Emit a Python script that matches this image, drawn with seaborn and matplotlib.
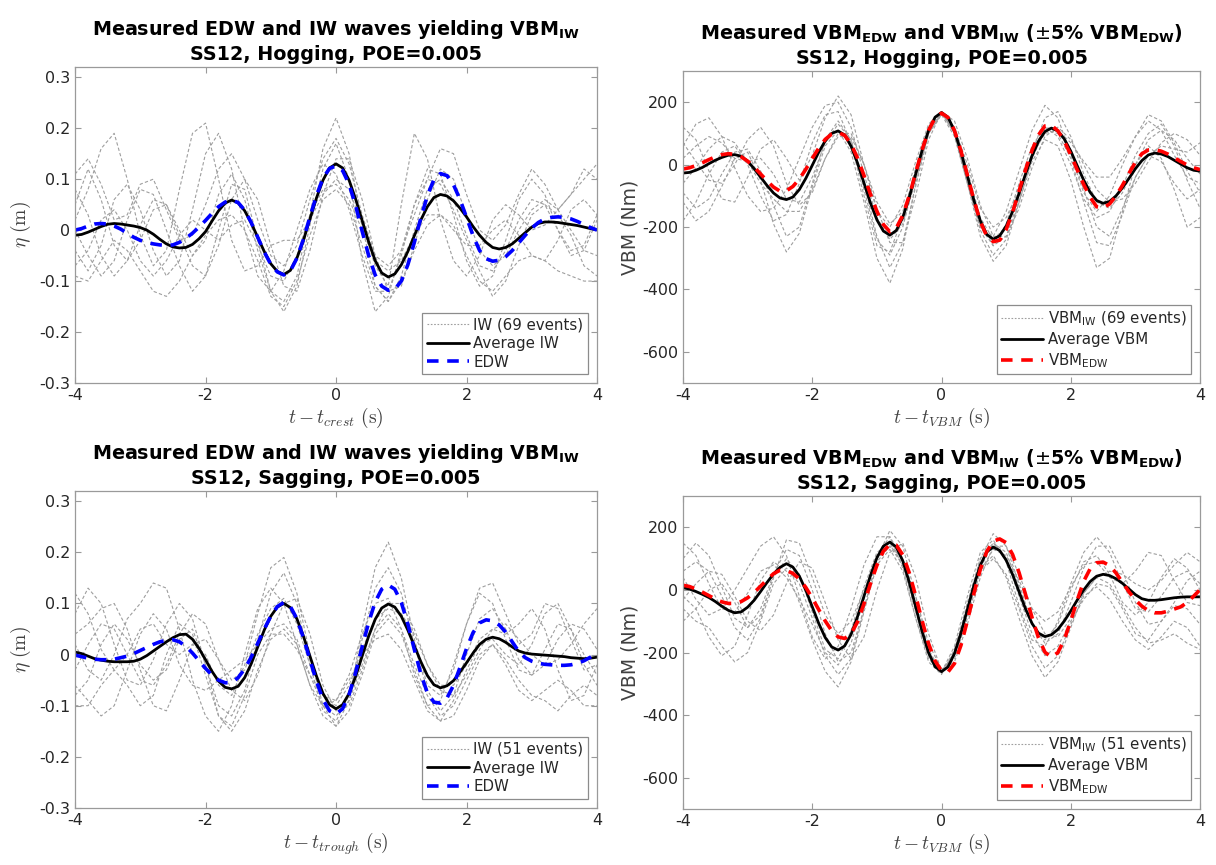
import numpy as np
import pandas as pd
import matplotlib
matplotlib.use("Agg")
import matplotlib.pyplot as plt
from matplotlib.lines import Line2D
from matplotlib.ticker import FuncFormatter
import seaborn as sns

# --- time bases (s) ---
t_fine = np.round(np.arange(-4.0, 4.0001, 0.1), 1)    # average / design curves
t_event = np.round(np.arange(-4.0, 4.0001, 0.2), 1)   # individual events

# --- hogging, wave elevation (m) ---
hog_avg_iw = [-0.010, -0.0085, -0.004, 0.0015, 0.007, 0.0115, 0.013, 0.012, 0.010, 0.008,
              0.005, 0.000, -0.008, -0.018, -0.027, -0.033, -0.035, -0.034, -0.028, -0.017,
              -0.003, 0.018, 0.038, 0.053, 0.059, 0.0535, 0.038, 0.014, -0.014, -0.042,
              -0.066, -0.081, -0.087, -0.079, -0.055, -0.020, 0.022, 0.063, 0.098, 0.122,
              0.130, 0.122, 0.098, 0.061, 0.019, -0.023, -0.060, -0.084, -0.092, -0.086,
              -0.068, -0.042, -0.011, 0.020, 0.046, 0.064, 0.070, 0.067, 0.0575, 0.043,
              0.026, 0.007, -0.010, -0.024, -0.034, -0.037, -0.034, -0.027, -0.016, -0.005,
              0.006, 0.013, 0.016, 0.016, 0.015, 0.013, 0.011, 0.009, 0.006, 0.003,
              0.001]
hog_edw = [0.000, 0.003, 0.008, 0.012, 0.013, 0.012, 0.008, 0.002, -0.006, -0.014,
           -0.020, -0.024, -0.027, -0.029, -0.030, -0.029, -0.024, -0.016, -0.006, 0.006,
           0.019, 0.033, 0.046, 0.055, 0.059, 0.054, 0.039, 0.015, -0.014, -0.043,
           -0.067, -0.082, -0.088, -0.080, -0.055, -0.018, 0.026, 0.068, 0.102, 0.121,
           0.126, 0.117, 0.090, 0.048, -0.002, -0.050, -0.088, -0.110, -0.118, -0.116,
           -0.100, -0.068, -0.024, 0.024, 0.068, 0.099, 0.111, 0.107, 0.089, 0.060,
           0.025, -0.011, -0.040, -0.056, -0.061, -0.059, -0.052, -0.040, -0.025, -0.010,
           0.004, 0.015, 0.022, 0.025, 0.026, 0.025, 0.022, 0.017, 0.011, 0.005,
           0.000]
hog_iw_events = [
    [0.05, 0.12, 0.06, -0.03, -0.06, -0.02, 0.04, 0.05, 0.0, -0.05,
     -0.02, 0.07, 0.11, 0.06, -0.04, -0.12, -0.14, -0.09, 0.03, 0.16,
     0.22, 0.15, 0.01, -0.11, -0.14, -0.09, 0.0, 0.08, 0.10, 0.06,
     -0.01, -0.07, -0.08, -0.04, 0.02, 0.06, 0.05, 0.0, -0.05, -0.04, 0.02],
    [-0.04, -0.08, -0.03, 0.06, 0.09, 0.04, -0.04, -0.09, -0.06, 0.04,
     0.15, 0.19, 0.12, 0.0, -0.09, -0.12, -0.08, 0.0, 0.08, 0.13,
     0.11, 0.04, -0.05, -0.12, -0.12, -0.05, 0.05, 0.12, 0.11, 0.03,
     -0.06, -0.11, -0.09, -0.02, 0.06, 0.10, 0.07, 0.0, -0.04, -0.03, 0.03],
    [0.08, 0.03, -0.05, -0.09, -0.06, 0.01, 0.06, 0.05, -0.01, -0.07,
     -0.09, -0.03, 0.06, 0.10, 0.06, -0.03, -0.11, -0.12, -0.04, 0.07,
     0.14, 0.14, 0.06, -0.05, -0.12, -0.11, -0.03, 0.06, 0.12, 0.10,
     0.03, -0.04, -0.07, -0.05, 0.0, 0.04, 0.06, 0.04, 0.0, -0.04, -0.05],
    [-0.07, -0.04, 0.02, 0.04, 0.0, -0.06, -0.09, -0.06, -0.01, 0.02,
     0.0, -0.02, 0.01, 0.02, -0.03, -0.09, -0.10, -0.05, 0.03, 0.08,
     0.09, 0.06, 0.0, -0.06, -0.08, -0.06, -0.01, 0.03, 0.03, 0.0,
     -0.03, -0.03, 0.0, 0.02, -0.01, -0.05, -0.06, -0.02, 0.04, 0.06, 0.03],
    [0.02, 0.08, 0.16, 0.19, 0.10, -0.01, -0.07, -0.04, 0.08, 0.19,
     0.21, 0.10, -0.02, -0.08, -0.07, -0.03, -0.02, -0.02, 0.02, 0.07,
     0.10, 0.08, 0.01, -0.07, -0.11, 0.05, 0.19, 0.14, 0.02, -0.06,
     -0.09, -0.05, 0.02, 0.05, 0.03, 0.0, 0.01, 0.04, 0.07, 0.10, 0.13],
    [0.0, -0.05, -0.09, -0.06, 0.02, 0.08, 0.07, 0.0, -0.07, -0.12,
     -0.09, 0.0, 0.09, 0.08, -0.02, -0.12, -0.16, -0.11, 0.01, 0.12,
     0.17, 0.10, -0.06, -0.16, -0.13, -0.04, 0.05, 0.10, 0.09, 0.04,
     -0.02, -0.08, -0.13, -0.10, -0.03, 0.03, 0.05, 0.03, -0.01, -0.07, -0.09],
    [0.11, 0.14, 0.09, 0.02, 0.03, 0.09, 0.10, 0.04, -0.02, -0.01,
     0.05, 0.12, 0.15, 0.10, 0.02, -0.05, -0.07, -0.03, 0.06, 0.14,
     0.18, 0.13, 0.03, -0.05, -0.07, -0.04, 0.03, 0.10, 0.16, 0.15,
     0.07, 0.0, -0.02, 0.01, 0.07, 0.12, 0.09, 0.04, 0.07, 0.12, 0.10],
    [-0.09, -0.10, -0.06, -0.02, -0.04, -0.08, -0.12, -0.13, -0.10, -0.05,
     -0.01, 0.02, 0.03, 0.0, -0.06, -0.13, -0.15, -0.10, -0.01, 0.06,
     0.08, 0.05, -0.03, -0.11, -0.14, -0.10, -0.04, 0.01, 0.03, 0.01,
     -0.05, -0.10, -0.12, -0.09, -0.06, -0.05, -0.06, -0.08, -0.09, -0.10, -0.10],
]

# --- hogging, VBM (Nm) ---
hog_avg_vbm = [-27, -25, -18, -9, 3, 14, 23, 30, 32, 27,
               11, -13, -40, -67, -91, -107, -112, -104, -80, -44,
               -2, 40, 76, 100, 108, 95, 59, 5, -59, -123,
               -177, -213, -226, -211, -169, -105, -30, 46, 110, 152,
               167, 152, 108, 42, -36, -114, -180, -224, -239, -228,
               -197, -150, -92, -30, 28, 75, 106, 117, 108, 82,
               43, -4, -50, -89, -115, -124, -118, -100, -74, -44,
               -13, 13, 31, 37, 34, 26, 14, 2, -10, -18,
               -21]
hog_vbm_edw = [-14, -10, -3, 6, 16, 25, 32, 35, 33, 25,
               11, -8, -30, -52, -72, -85, -84, -70, -46, -15,
               20, 53, 81, 98, 103, 94, 66, 21, -35, -95,
               -150, -192, -215, -203, -163, -100, -26, 48, 110, 150,
               165, 151, 109, 44, -34, -113, -183, -229, -247, -242,
               -208, -152, -84, -16, 46, 95, 124, 126, 108, 75,
               31, -17, -64, -105, -135, -139, -126, -100, -66, -28,
               8, 35, 47, 48, 43, 34, 22, 10, -1, -10,
               -16]
hog_vbm_events = [
    [60, 130, 150, 90, -10, -100, -150, -140, -80, 20,
     120, 190, 200, 120, -30, -170, -240, -190, -50, 100,
     165, 110, -30, -180, -260, -230, -110, 40, 150, 170,
     90, -30, -120, -140, -90, 0, 80, 110, 80, 20, -30],
    [-120, -180, -150, -70, 20, 40, -50, -190, -280, -220,
     -70, 60, 110, 40, -120, -300, -380, -270, -60, 100,
     160, 90, -60, -210, -290, -240, -120, 10, 80, 60,
     -50, -200, -330, -300, -150, 0, 60, 20, -80, -200, -170],
    [120, 80, -20, -110, -120, -40, 50, 80, 20, -50,
     30, 150, 220, 160, 0, -150, -200, -130, 10, 130,
     170, 100, -60, -200, -230, -150, -20, 110, 190, 150,
     30, -90, -150, -100, 0, 90, 140, 110, 30, -40, -60],
    [-60, -10, 50, 90, 70, 10, -60, -110, -150, -150,
     -80, 20, 90, 90, 0, -140, -250, -250, -100, 80,
     168, 140, 20, -130, -230, -230, -140, -10, 90, 120,
     80, 0, -80, -120, -110, -60, 10, 70, 100, 80, 30],
    [20, 60, 90, 70, 20, 10, 20, -30, -110, -120,
     -40, 70, 130, 80, -60, -230, -330, -250, -70, 100,
     162, 120, -20, -170, -240, -200, -90, 40, 120, 110,
     40, -80, -200, -230, -140, -40, 30, 60, 50, 40, 70],
    [-180, -120, -30, 40, 60, 0, -100, -180, -160, -60,
     70, 160, 170, 70, -100, -260, -280, -170, -10, 120,
     170, 100, -50, -200, -260, -190, -60, 60, 120, 90,
     0, -110, -170, -150, -70, 30, 100, 130, 60, -50, -140],
    [70, 10, -50, -60, 0, 80, 120, 60, -60, -130,
     -90, 20, 100, 100, 0, -120, -190, -150, -30, 110,
     168, 120, 0, -140, -200, -170, -80, 30, 100, 110,
     70, 10, -40, -40, 20, 90, 160, 140, 70, -20, -90],
    [-90, -140, -110, -30, 40, 50, -20, -130, -230, -200,
     -60, 80, 140, 80, -80, -240, -290, -200, -40, 110,
     165, 100, -60, -230, -310, -260, -120, 20, 110, 100,
     20, -120, -250, -260, -160, -40, 30, 10, -60, -110, -80],
]

# --- sagging, wave elevation (m) ---
sag_avg_iw = [0.005, 0.002, -0.003, -0.008, -0.011, -0.013, -0.014, -0.014, -0.014, -0.013,
              -0.009, -0.002, 0.007, 0.016, 0.025, 0.033, 0.039, 0.040, 0.030, 0.012,
              -0.010, -0.033, -0.052, -0.064, -0.067, -0.062, -0.045, -0.018, 0.015, 0.048,
              0.075, 0.093, 0.100, 0.092, 0.070, 0.036, -0.003, -0.042, -0.076, -0.098,
              -0.106, -0.098, -0.076, -0.043, -0.003, 0.036, 0.069, 0.091, 0.099, 0.093,
              0.075, 0.048, 0.017, -0.014, -0.041, -0.059, -0.065, -0.061, -0.051, -0.034,
              -0.016, 0.003, 0.020, 0.030, 0.034, 0.031, 0.024, 0.015, 0.007, 0.003,
              0.001, 0.000, -0.001, -0.002, -0.003, -0.004, -0.006, -0.007, -0.008, -0.007,
              -0.005]
sag_edw = [-0.001, -0.004, -0.007, -0.009, -0.010, -0.010, -0.009, -0.006, -0.003, 0.002,
           0.008, 0.014, 0.020, 0.025, 0.028, 0.029, 0.025, 0.016, 0.003, -0.012,
           -0.027, -0.040, -0.050, -0.055, -0.055, -0.045, -0.028, -0.005, 0.022, 0.050,
           0.075, 0.094, 0.102, 0.094, 0.070, 0.033, -0.010, -0.052, -0.088, -0.110,
           -0.116, -0.106, -0.078, -0.035, 0.015, 0.063, 0.103, 0.128, 0.136, 0.128,
           0.102, 0.060, 0.010, -0.038, -0.075, -0.093, -0.095, -0.085, -0.060, -0.025,
           0.012, 0.043, 0.062, 0.068, 0.066, 0.058, 0.044, 0.025, 0.006, -0.006,
           -0.013, -0.017, -0.019, -0.020, -0.021, -0.021, -0.020, -0.017, -0.012, -0.005,
           0.002]
sag_iw_events = [
    [0.08, 0.13, 0.10, 0.02, -0.05, -0.06, -0.01, 0.06, 0.10, 0.07,
     -0.02, -0.10, -0.12, -0.07, 0.03, 0.12, 0.16, 0.10, -0.02, -0.11,
     -0.13, -0.08, 0.03, 0.13, 0.17, 0.12, 0.02, -0.07, -0.11, -0.08,
     0.0, 0.07, 0.09, 0.05, -0.01, -0.04, -0.02, 0.03, 0.06, 0.05, 0.01],
    [-0.06, -0.09, -0.12, -0.10, -0.03, 0.04, 0.08, 0.05, -0.02, -0.06,
     -0.07, -0.05, -0.03, -0.01, 0.02, 0.05, 0.06, 0.03, -0.04, -0.10,
     -0.12, -0.09, -0.02, 0.05, 0.08, 0.05, -0.02, -0.08, -0.12, -0.10,
     -0.05, 0.0, 0.02, -0.01, -0.05, -0.08, -0.09, -0.11, -0.08, -0.06, -0.08],
    [0.02, -0.03, -0.05, 0.0, 0.07, 0.10, 0.14, 0.13, 0.05, -0.05,
     -0.12, -0.15, -0.10, 0.0, 0.09, 0.13, 0.10, 0.02, -0.06, -0.10,
     -0.09, -0.04, 0.04, 0.10, 0.11, 0.05, -0.04, -0.10, -0.09, -0.02,
     0.06, 0.12, 0.10, 0.03, -0.03, -0.04, 0.01, 0.06, 0.05, 0.0, -0.04],
    [-0.03, 0.02, 0.06, 0.05, 0.0, -0.05, -0.06, -0.02, 0.04, 0.08,
     0.06, -0.01, -0.07, -0.09, -0.04, 0.04, 0.10, 0.11, 0.04, -0.06,
     -0.11, -0.10, -0.03, 0.05, 0.10, 0.10, 0.05, -0.02, -0.07, -0.08,
     -0.04, 0.01, 0.05, 0.06, 0.03, 0.0, -0.02, -0.01, 0.02, 0.06, 0.09],
    [0.12, 0.08, 0.01, -0.03, 0.0, 0.05, 0.06, 0.02, 0.0, 0.02,
     0.0, -0.06, -0.08, -0.02, 0.08, 0.17, 0.19, 0.12, 0.0, -0.10,
     -0.14, -0.09, 0.05, 0.17, 0.22, 0.15, 0.03, -0.06, -0.08, -0.03,
     0.06, 0.13, 0.14, 0.08, 0.02, 0.04, 0.10, 0.09, 0.03, -0.03, -0.02],
    [-0.08, -0.05, 0.02, 0.06, 0.03, -0.02, -0.05, -0.03, 0.03, 0.05,
     -0.02, -0.12, -0.14, -0.08, 0.0, 0.04, 0.04, 0.01, -0.04, -0.08,
     -0.09, -0.05, 0.0, 0.03, 0.04, 0.01, -0.05, -0.11, -0.13, -0.09,
     -0.03, 0.02, 0.03, 0.0, -0.02, 0.02, 0.08, 0.10, 0.05, -0.02, -0.06],
    [0.04, 0.06, 0.09, 0.10, 0.05, -0.03, -0.10, -0.11, -0.05, 0.02,
     0.03, -0.01, -0.05, -0.03, 0.04, 0.09, 0.11, 0.06, -0.02, -0.08,
     -0.10, -0.06, 0.01, 0.07, 0.09, 0.08, 0.04, -0.02, -0.06, -0.06,
     -0.02, 0.03, 0.05, 0.04, 0.06, 0.09, 0.05, -0.03, -0.09, -0.08, -0.02],
    [-0.10, -0.10, -0.06, -0.03, -0.06, -0.10, -0.08, 0.0, 0.06, 0.04,
     -0.04, -0.12, -0.15, -0.11, -0.03, 0.03, 0.05, 0.02, -0.06, -0.12,
     -0.14, -0.11, -0.04, 0.04, 0.07, 0.04, -0.03, -0.10, -0.13, -0.12,
     -0.07, -0.01, 0.02, -0.02, -0.07, -0.09, -0.07, -0.05, -0.07, -0.10, -0.10],
]

# --- sagging, VBM (Nm) ---
sag_avg_vbm = [7, 3, -5, -14, -24, -37, -52, -65, -73, -70,
               -55, -33, -5, 24, 51, 72, 84, 73, 44, -1,
               -54, -107, -152, -182, -192, -179, -142, -85, -20, 46,
               103, 140, 153, 137, 93, 25, -54, -133, -201, -245,
               -261, -246, -203, -138, -62, 14, 79, 122, 137, 126,
               95, 49, -6, -61, -107, -138, -149, -143, -126, -99,
               -67, -32, 0, 27, 44, 50, 46, 36, 21, 3,
               -15, -28, -33, -33, -31, -28, -25, -23, -22, -22,
               -22]
sag_vbm_edw = [15, 11, 3, -7, -18, -29, -38, -43, -43, -37,
               -25, -8, 12, 33, 52, 63, 62, 53, 35, 8,
               -26, -63, -99, -130, -150, -155, -140, -102, -44, 20,
               79, 124, 145, 143, 112, 55, -19, -99, -172, -227,
               -258, -262, -235, -177, -98, -12, 66, 123, 156, 163,
               151, 113, 55, -15, -88, -153, -199, -215, -200, -158,
               -98, -32, 28, 68, 87, 89, 78, 54, 24, -6,
               -32, -52, -66, -73, -73, -68, -61, -54, -40, -20,
               1]
sag_vbm_events = [
    [100, 150, 110, 10, -90, -120, -60, 50, 130, 110,
     0, -140, -230, -200, -60, 100, 190, 140, -20, -190,
     -265, -210, -60, 100, 180, 140, 20, -110, -170, -140,
     -40, 70, 140, 140, 60, -40, -110, -100, -40, 30, 60],
    [-60, -100, -120, -180, -230, -200, -100, 20, 70, 20,
     -90, -210, -270, -220, -60, 90, 140, 80, -60, -200,
     -260, -200, -60, 60, 100, 50, -60, -180, -250, -210,
     -110, -20, 10, -30, -100, -160, -190, -150, -100, -120, -180],
    [40, -30, -80, -60, 0, 70, 140, 170, 110, -20,
     -150, -220, -180, -60, 80, 170, 170, 70, -90, -220,
     -262, -180, -20, 120, 160, 90, -50, -160, -180, -100,
     20, 120, 170, 120, 20, -60, -70, -20, 40, 60, 20],
    [-30, 20, 60, 50, -20, -100, -130, -80, 20, 90,
     70, -40, -160, -220, -150, 0, 120, 150, 40, -140,
     -258, -230, -110, 40, 140, 140, 50, -60, -140, -150,
     -90, -10, 40, 60, 50, 20, 0, 30, 80, 120, 90],
    [150, 110, 20, -60, -70, -10, 60, 80, 40, -30,
     -110, -200, -240, -170, -30, 110, 170, 100, -50, -200,
     -262, -210, -80, 70, 150, 120, 10, -110, -160, -110,
     0, 90, 110, 50, -40, -80, -40, 40, 100, 70, 0],
    [-100, -60, 0, 20, -40, -120, -80, 40, 100, 50,
     -70, -190, -220, -130, 10, 120, 150, 80, -70, -210,
     -266, -200, -40, 100, 150, 100, -20, -140, -210, -180,
     -100, -30, 20, 10, -60, -140, -160, -100, -50, -60, -110],
    [60, 90, 60, -20, -120, -160, -90, 40, 160, 150,
     40, -80, -140, -100, 0, 100, 140, 100, -20, -170,
     -255, -220, -90, 60, 130, 110, 30, -60, -100, -70,
     10, 80, 90, 40, 20, 60, 120, 110, 30, -40, -50],
    [-20, -60, -150, -210, -180, -80, 30, 90, 60, -40,
     -160, -260, -310, -230, -70, 80, 130, 60, -90, -230,
     -270, -190, -50, 70, 110, 40, -90, -210, -280, -230,
     -120, -10, 40, 20, -50, -120, -170, -160, -140, -170, -190],
]

# --- styling ---
sns.set_theme(style="white")
plt.rcParams["font.family"] = ["DejaVu Sans"]
plt.rcParams["axes.unicode_minus"] = False

GRAY = "#9e9e9e"
EDGE = "#9a9a9a"
TXT = "#262626"


def events_frame(events):
    rows = []
    for k, ev in enumerate(events):
        for t, v in zip(t_event, ev):
            rows.append({"t": t, "v": v, "event": k})
    return pd.DataFrame(rows)


def draw_panel(ax, events, avg, design, design_color, title, xlabel, ylabel,
               ylabel_math, ylim, yticks, labels):
    ev_df = events_frame(events)
    sns.lineplot(data=ev_df, x="t", y="v", units="event", estimator=None,
                 color=GRAY, lw=0.8, ls=(0, (3, 2)), legend=False, ax=ax)
    main = pd.DataFrame({"t": t_fine, "avg": avg, "design": design})
    sns.lineplot(data=main, x="t", y="avg", color="black", lw=2.0, ax=ax)
    sns.lineplot(data=main, x="t", y="design", color=design_color, lw=2.6,
                 ls=(0, (3.2, 2.4)), ax=ax)

    ax.set_xlim(-4, 4)
    ax.set_ylim(*ylim)
    ax.set_xticks([-4, -2, 0, 2, 4])
    ax.set_yticks(yticks)
    ax.yaxis.set_major_formatter(FuncFormatter(lambda v, p: f"{round(v, 3):g}"))
    ax.tick_params(direction="in", length=4, width=0.8, colors=EDGE,
                   labelcolor=TXT, labelsize=11.5, top=True, right=True,
                   bottom=True, left=True)
    for s in ax.spines.values():
        s.set_color(EDGE)
        s.set_linewidth(0.9)

    ax.set_title(title, fontsize=13.8, fontweight="bold", color="black",
                 pad=5, linespacing=1.3)
    ax.set_xlabel(xlabel, fontsize=14, color="#404040", math_fontfamily="cm",
                  labelpad=2)
    if ylabel_math:
        ax.set_ylabel(ylabel, fontsize=14, color="#404040",
                      math_fontfamily="cm", labelpad=4)
    else:
        ax.set_ylabel(ylabel, fontsize=13.5, color="#404040", labelpad=2)

    handles = [
        Line2D([], [], color=GRAY, lw=0.8, ls=(0, (1.5, 1.5))),
        Line2D([], [], color="black", lw=2.0),
        Line2D([], [], color=design_color, lw=2.6, ls=(0, (3.2, 2.4))),
    ]
    leg = ax.legend(handles, labels, loc="lower right", fontsize=10.8,
                    frameon=True, fancybox=False, framealpha=1,
                    edgecolor="#8c8c8c", handlelength=2.8, handletextpad=0.3,
                    labelspacing=0.25, borderpad=0.3, borderaxespad=0.6)
    leg.get_frame().set_linewidth(0.9)
    for txt in leg.get_texts():
        txt.set_color(TXT)


fig = plt.figure(figsize=(12.16, 8.65), dpi=100)
ax_tl = fig.add_axes([0.0617, 0.5572, 0.4293, 0.3653])
ax_tr = fig.add_axes([0.5617, 0.5572, 0.4252, 0.3607])
ax_bl = fig.add_axes([0.0617, 0.0659, 0.4293, 0.3665])
ax_br = fig.add_axes([0.5617, 0.0647, 0.4252, 0.3618])

eta_ticks = [-0.3, -0.2, -0.1, 0, 0.1, 0.2, 0.3]
vbm_ticks = [-600, -400, -200, 0, 200]

title_wave = "Measured EDW and IW waves yielding VBM$_{\\mathbf{IW}}$"
title_vbm = ("Measured VBM$_{\\mathbf{EDW}}$ and VBM$_{\\mathbf{IW}}$ "
             "($\\pm$5% VBM$_{\\mathbf{EDW}}$)")

draw_panel(ax_tl, hog_iw_events, hog_avg_iw, hog_edw, "#0000ff",
           title_wave + "\nSS12, Hogging, POE=0.005",
           r"$t - t_{crest}\ \mathrm{(s)}$", r"$\eta\ \mathrm{(m)}$", True,
           (-0.3, 0.32), eta_ticks,
           ["IW (69 events)", "Average IW", "EDW"])
draw_panel(ax_tr, hog_vbm_events, hog_avg_vbm, hog_vbm_edw, "#ff0000",
           title_vbm + "\nSS12, Hogging, POE=0.005",
           r"$t - t_{VBM}\ \mathrm{(s)}$", "VBM (Nm)", False,
           (-700, 300), vbm_ticks,
           ["VBM$_{\\mathrm{IW}}$ (69 events)", "Average VBM",
            "VBM$_{\\mathrm{EDW}}$"])
draw_panel(ax_bl, sag_iw_events, sag_avg_iw, sag_edw, "#0000ff",
           title_wave + "\nSS12, Sagging, POE=0.005",
           r"$t - t_{trough}\ \mathrm{(s)}$", r"$\eta\ \mathrm{(m)}$", True,
           (-0.3, 0.32), eta_ticks,
           ["IW (51 events)", "Average IW", "EDW"])
draw_panel(ax_br, sag_vbm_events, sag_avg_vbm, sag_vbm_edw, "#ff0000",
           title_vbm + "\nSS12, Sagging, POE=0.005",
           r"$t - t_{VBM}\ \mathrm{(s)}$", "VBM (Nm)", False,
           (-700, 300), vbm_ticks,
           ["VBM$_{\\mathrm{IW}}$ (51 events)", "Average VBM",
            "VBM$_{\\mathrm{EDW}}$"])

fig.savefig("out.png", dpi=100, facecolor="white")
